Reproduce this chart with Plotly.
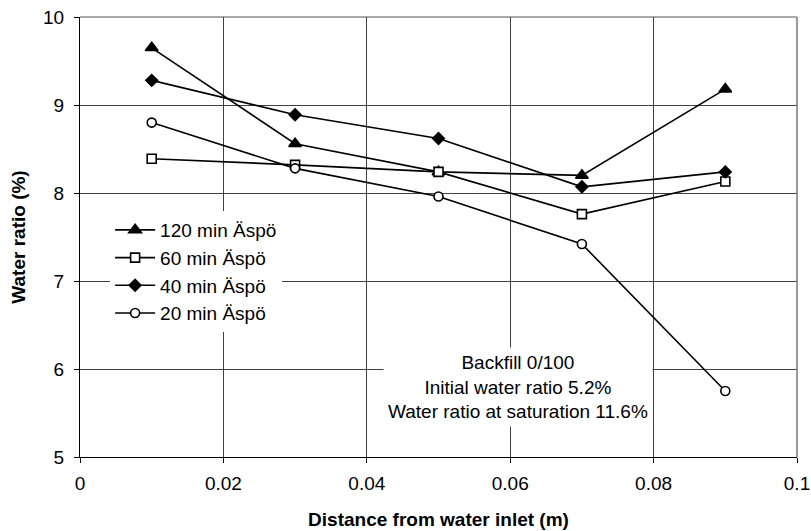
"""
    Water ratio vs distance from water inlet, backfill 0/100.
"""
import plotly.graph_objects as go

distance = [0.01, 0.03, 0.05, 0.07, 0.09]

series_names = ["120 min Äspö", "60 min Äspö", "40 min Äspö", "20 min Äspö"]
ratio_120 = [9.65, 8.56, 8.24, 8.20, 9.18]
ratio_60 = [8.39, 8.32, 8.24, 7.76, 8.13]
ratio_40 = [9.28, 8.89, 8.62, 8.07, 8.24]
ratio_20 = [8.80, 8.28, 7.96, 7.42, 5.75]

x_ticks = [0, 0.02, 0.04, 0.06, 0.08, 0.1]
x_tick_labels = ["0", "0.02", "0.04", "0.06", "0.08", "0.1"]
y_ticks = [5, 6, 7, 8, 9, 10]

note_lines = [
    "Backfill 0/100",
    "Initial water ratio 5.2%",
    "Water ratio at saturation 11.6%",
]

FONT = "Liberation Sans, Arial, sans-serif"
SIZE = 19

fig = go.Figure()

# hollow markers get a white fill so they hide what is drawn under them
styles = [
    dict(symbol="triangle-up", size=11, color="black"),
    dict(symbol="square", size=9, color="white"),
    dict(symbol="diamond", size=9, color="black"),
    dict(symbol="circle", size=9, color="white"),
]

for name, values, marker in zip(series_names, [ratio_120, ratio_60, ratio_40, ratio_20], styles):
    fig.add_trace(
        go.Scatter(
            x=distance,
            y=values,
            name=name,
            mode="lines+markers",
            line=dict(color="black", width=1.6),
            marker=dict(marker, line=dict(color="black", width=1.6)),
        )
    )

fig.update_xaxes(
    range=[0, 0.1],
    tickvals=x_ticks,
    ticktext=x_tick_labels,
    ticks="outside",
    ticklen=5,
    tickcolor="black",
    ticklabelstandoff=4,
    showgrid=True,
    gridcolor="#404040",
    gridwidth=1,
    showline=True,
    linecolor="black",
    linewidth=1,
    zeroline=False,
    automargin=False,
    tickfont=dict(family=FONT, size=SIZE, color="black"),
    title=dict(
        text="<b>Distance from water inlet (m)</b>",
        font=dict(family=FONT, size=SIZE, color="black"),
        standoff=19,
    ),
)

fig.update_yaxes(
    range=[5, 10],
    tickvals=y_ticks,
    ticks="outside",
    ticklen=5,
    tickcolor="black",
    ticklabelstandoff=6,
    showgrid=True,
    gridcolor="#404040",
    gridwidth=1,
    showline=True,
    linecolor="black",
    linewidth=1,
    zeroline=False,
    automargin=False,
    tickfont=dict(family=FONT, size=SIZE, color="black"),
    title=dict(
        text="<b>Water ratio (%)</b>",
        font=dict(family=FONT, size=SIZE, color="black"),
        standoff=12,
    ),
)

# grey frame on top and right side of the plot area
fig.add_shape(
    type="line", xref="paper", yref="paper", x0=0, x1=1, y0=1, y1=1,
    line=dict(color="#555555", width=1),
)
fig.add_shape(
    type="line", xref="paper", yref="paper", x0=1, x1=1, y0=0, y1=1,
    line=dict(color="#777777", width=1.5),
)

fig.add_annotation(
    text="<br>".join(note_lines),
    xref="paper",
    yref="paper",
    x=0.611,
    y=0.159,
    xanchor="center",
    yanchor="middle",
    showarrow=False,
    align="center",
    bgcolor="white",
    borderpad=4,
    font=dict(family=FONT, size=SIZE, color="black"),
)

fig.update_layout(
    width=811,
    height=531,
    plot_bgcolor="white",
    paper_bgcolor="white",
    margin=dict(l=80, r=14, t=17, b=74),
    showlegend=True,
    legend=dict(
        x=0.042,
        y=0.559,
        xanchor="left",
        yanchor="top",
        bgcolor="white",
        borderwidth=0,
        tracegroupgap=0,
        itemwidth=40,
        font=dict(family=FONT, size=SIZE, color="black"),
    ),
)

fig.write_html(
    "out.html",
    config={"displayModeBar": False},
    post_script="document.body.style.margin='0px';",
)
